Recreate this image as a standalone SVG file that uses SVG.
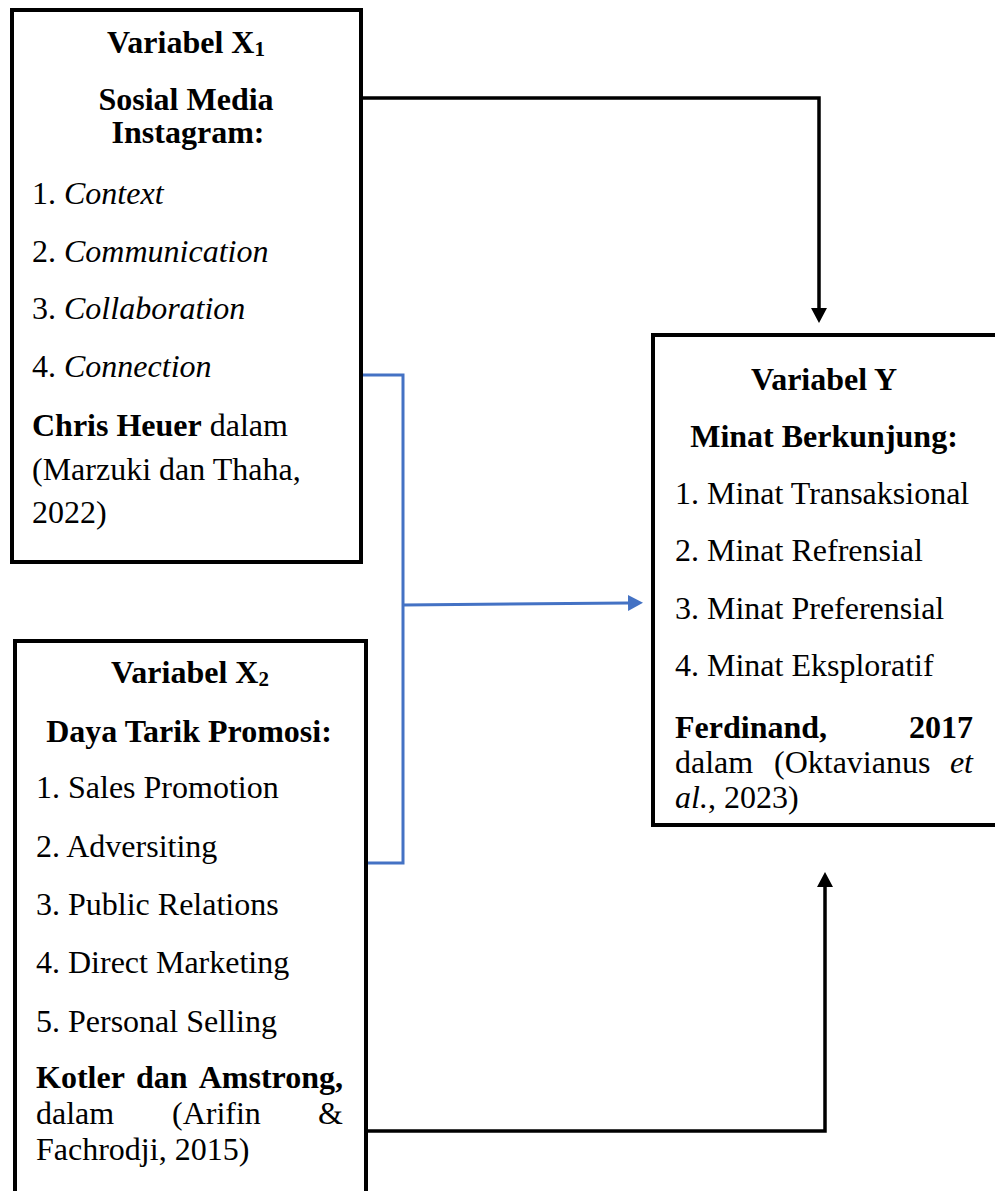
<svg xmlns="http://www.w3.org/2000/svg" width="995" height="1191" viewBox="0 0 995 1191">
<style>
  .box { fill: #ffffff; stroke: #000000; stroke-width: 4; }
  .t { font-family: "Liberation Serif", "Times New Roman", serif; font-size: 32px; fill: #000000; }
  .b { font-weight: bold; }
  .i { font-style: italic; }
  .c { text-anchor: middle; }
  .e { text-anchor: end; }
  .sub { font-size: 21px; }
  .blk { fill: none; stroke: #000000; stroke-width: 3.5; }
  .blu { fill: none; stroke: #4472C4; stroke-width: 3; }
</style>
<defs>
  <marker id="arrBlack" viewBox="0 0 15 16" refX="0" refY="8" markerWidth="15" markerHeight="16" markerUnits="userSpaceOnUse" orient="auto">
    <path d="M0,0 L15,8 L0,16 Z" fill="#000000"/>
  </marker>
  <marker id="arrBlue" viewBox="0 0 15 16" refX="0" refY="8" markerWidth="15" markerHeight="16" markerUnits="userSpaceOnUse" orient="auto">
    <path d="M0,0 L15,8 L0,16 Z" fill="#4472C4"/>
  </marker>
</defs>
<rect width="995" height="1191" fill="#ffffff"/>

<g id="connectors">
  <path class="blk" d="M363,98 H819 V308" marker-end="url(#arrBlack)"/>
  <path class="blk" d="M366,1131 H825 V887" marker-end="url(#arrBlack)"/>
  <path class="blu" d="M363,375 H403 V863 H366"/>
  <path class="blu" d="M403,605 L628,603" marker-end="url(#arrBlue)"/>
</g>

<g id="node-x1">
  <rect class="box" x="12" y="10" width="349" height="552"/>
  <text class="t b c" x="186" y="53">Variabel X<tspan class="sub" dy="3">1</tspan></text>
  <text class="t b c" x="186" y="110">Sosial Media</text>
  <text class="t b c" x="188" y="143">Instagram:</text>
  <text class="t" x="32" y="204">1. <tspan class="i">Context</tspan></text>
  <text class="t" x="32" y="262">2. <tspan class="i">Communication</tspan></text>
  <text class="t" x="32" y="319">3. <tspan class="i">Collaboration</tspan></text>
  <text class="t" x="32" y="377">4. <tspan class="i">Connection</tspan></text>
  <text class="t" x="32" y="436"><tspan class="b">Chris Heuer</tspan> dalam</text>
  <text class="t" x="32" y="480">(Marzuki dan Thaha,</text>
  <text class="t" x="32" y="523">2022)</text>
</g>

<g id="node-x2">
  <rect class="box" x="15" y="641" width="351" height="600"/>
  <text class="t b c" x="190" y="683">Variabel X<tspan class="sub" dy="3">2</tspan></text>
  <text class="t b c" x="189" y="742">Daya Tarik Promosi:</text>
  <text class="t" x="36" y="798">1. Sales Promotion</text>
  <text class="t" x="36" y="857">2. Adversiting</text>
  <text class="t" x="36" y="915">3. Public Relations</text>
  <text class="t" x="36" y="973">4. Direct Marketing</text>
  <text class="t" x="36" y="1032">5. Personal Selling</text>
  <text class="t b" x="36" y="1088">Kotler</text>
  <text class="t b" x="136" y="1088">dan</text>
  <text class="t b e" x="343" y="1088">Amstrong,</text>
  <text class="t" x="36" y="1124">dalam</text>
  <text class="t" x="172" y="1124">(Arifin</text>
  <text class="t e" x="343" y="1124">&amp;</text>
  <text class="t" x="36" y="1160">Fachrodji, 2015)</text>
</g>

<g id="node-y">
  <rect class="box" x="653" y="335" width="360" height="490"/>
  <text class="t b c" x="824" y="390">Variabel Y</text>
  <text class="t b c" x="824" y="447">Minat Berkunjung:</text>
  <text class="t" x="675" y="504">1. Minat Transaksional</text>
  <text class="t" x="675" y="561">2. Minat Refrensial</text>
  <text class="t" x="675" y="619">3. Minat Preferensial</text>
  <text class="t" x="675" y="676">4. Minat Eksploratif</text>
  <text class="t b" x="675" y="738">Ferdinand,</text>
  <text class="t b e" x="973" y="738">2017</text>
  <text class="t" x="675" y="773">dalam</text>
  <text class="t" x="774" y="773">(Oktavianus</text>
  <text class="t i e" x="973" y="773">et</text>
  <text class="t" x="675" y="808"><tspan class="i">al.</tspan>, 2023)</text>
</g>
</svg>
